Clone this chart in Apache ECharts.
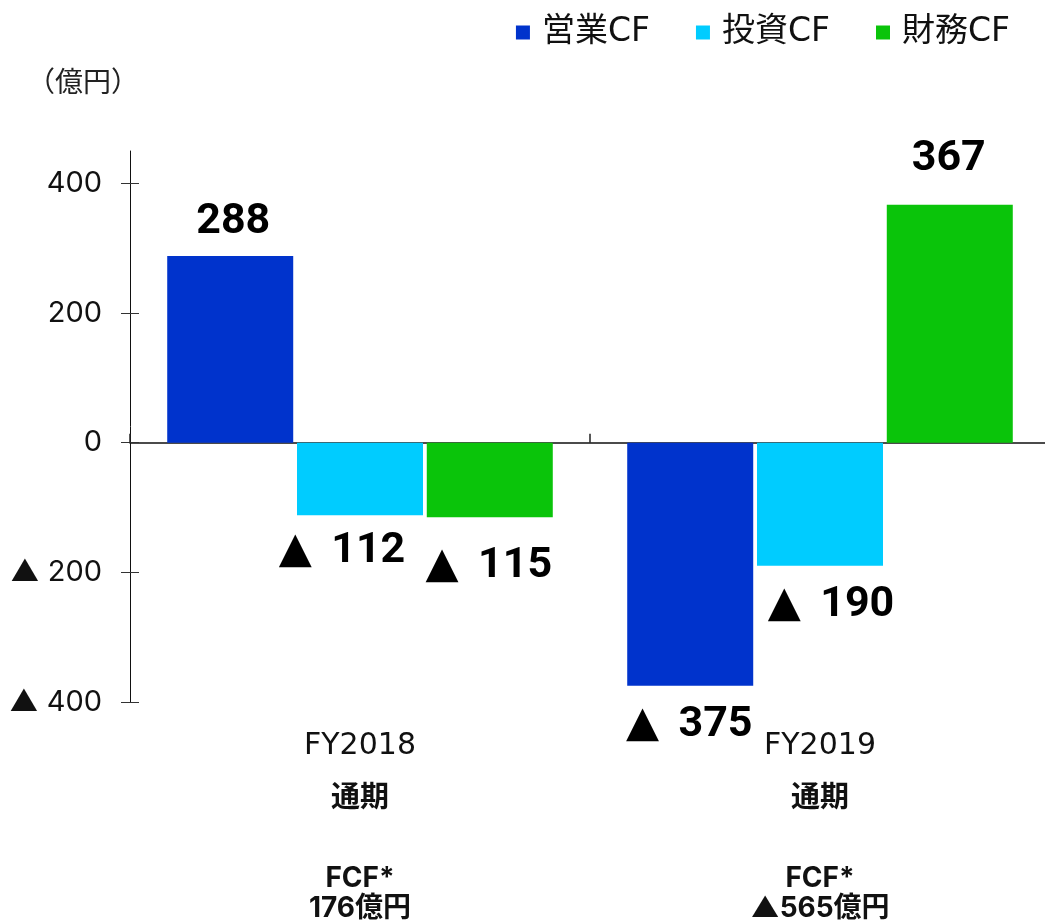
<!DOCTYPE html>
<html>
<head>
<meta charset="utf-8">
<script src="https://cdn.jsdelivr.net/npm/echarts@6/dist/echarts.min.js"></script>
<style>
  html, body { margin: 0; padding: 0; background: #fff; overflow: hidden; }
  #chart { width: 1050px; height: 924px; }
</style>
</head>
<body>
<div id="chart"></div>
<script>
// ---- data ----
const categories = ['FY2018', 'FY2019'];
const periodLabels = ['通期', '通期'];
const fcfTitles = ['FCF*', 'FCF*'];
const fcfValues = ['176億円', '▲565億円'];
const seriesNames = ['営業CF', '投資CF', '財務CF'];
const operatingCF = [288, -375];
const investingCF = [-112, -190];
const financingCF = [-115, 367];
const yTickValues = [-400, -200, 0, 200, 400];
const yUnit = '（億円）';

// ---- styling / layout ----
const colors = ['#0033cc', '#00ccff', '#0ac40a'];
const numFont = 'Inter, "DejaVu Sans", "Noto Sans CJK JP", sans-serif';
const valFont = 'Roboto, "DejaVu Sans", "Noto Sans CJK JP", sans-serif';
const catFont = '"DejaVu Sans", "Noto Sans CJK JP", sans-serif';
const legFont = '"DejaVu Sans", "Noto Sans CJK JP", sans-serif';
const cjkFont = '"Noto Sans CJK JP", sans-serif';
// per-label nudges [dx, dy]
const labelNudge = [
  [[3, -12], [-1, 18]],
  [[-18, 14], [11, 18]],
  [[-1, 27], [-1, -24]]
];

function tri(v, sp) { return v < 0 ? '▲' + sp + (-v) : String(v); }

function buildData(values, si) {
  return values.map((v, i) => ({
    value: v,
    label: {
      position: v >= 0 ? 'top' : 'bottom',
      offset: labelNudge[si][i]
    }
  }));
}

const allValues = [operatingCF, investingCF, financingCF];

const chart = echarts.init(document.getElementById('chart'), null, { renderer: 'canvas' });

const option = {
  animation: false,
  backgroundColor: '#fff',
  grid: { left: 130, right: 0, top: 151, bottom: 222 },
  legend: {
    data: seriesNames,
    right: 35,
    top: 11,
    icon: 'rect',
    itemWidth: 14,
    itemHeight: 14,
    itemGap: 46,
    textStyle: { fontSize: 33, fontFamily: legFont, color: '#111', padding: [0, 0, 0, 7] }
  },
  graphic: [{
    type: 'text',
    left: 27,
    top: 67,
    style: { text: yUnit, fontSize: 28, fontFamily: cjkFont, fill: '#222' }
  }],
  xAxis: [{
    type: 'category',
    data: categories,
    position: 'bottom',
    axisLine: { onZero: true, lineStyle: { color: '#111', width: 1.5 } },
    axisTick: { show: true, inside: true, length: 9, lineStyle: { color: '#222', width: 1.5 } },
    axisLabel: { show: false }
  }, {
    type: 'category',
    data: categories,
    position: 'bottom',
    axisLine: { show: false, onZero: false },
    axisTick: { show: false },
    axisLabel: {
      margin: 20,
      interval: 0,
      formatter: (v, i) => '{a|' + v + '}\n{b|' + periodLabels[i] + '}\n{g| }\n{c|' + fcfTitles[i] + '}\n{c|' + fcfValues[i] + '}',
      rich: {
        a: { fontSize: 30, fontFamily: catFont, color: '#111', lineHeight: 49 },
        b: { fontSize: 29, fontFamily: cjkFont, fontWeight: 'bold', color: '#111', lineHeight: 49 },
        g: { fontSize: 10, lineHeight: 44 },
        c: { fontSize: 28, fontFamily: numFont, fontWeight: 'bold', color: '#111', lineHeight: 30 }
      }
    }
  }],
  yAxis: [{
    type: 'value',
    min: -400,
    max: 450,
    position: 'left',
    axisLine: { show: true, lineStyle: { color: '#111', width: 1 } },
    axisTick: { show: true, length: 9, customValues: yTickValues, lineStyle: { color: '#333' } },
    axisLabel: {
      customValues: yTickValues,
      margin: 28,
      fontSize: 29,
      fontFamily: numFont,
      color: '#111',
      formatter: v => tri(v, ' ')
    },
    splitLine: { show: false }
  }, {
    type: 'value',
    min: -400,
    max: 450,
    position: 'left',
    axisLine: { show: false },
    axisTick: { show: true, inside: true, length: 9, customValues: yTickValues, lineStyle: { color: '#333' } },
    axisLabel: { show: false },
    splitLine: { show: false }
  }],
  series: allValues.map((vals, si) => ({
    name: seriesNames[si],
    type: 'bar',
    barWidth: 126,
    barGap: '3%',
    itemStyle: { color: colors[si] },
    label: {
      show: true,
      distance: 0,
      fontSize: 43,
      fontWeight: 'bold',
      fontFamily: valFont,
      color: '#000',
      formatter: p => tri(p.value, ' \u2009')
    },
    data: buildData(vals, si)
  }))
};

chart.setOption(option);
</script>
</body>
</html>
